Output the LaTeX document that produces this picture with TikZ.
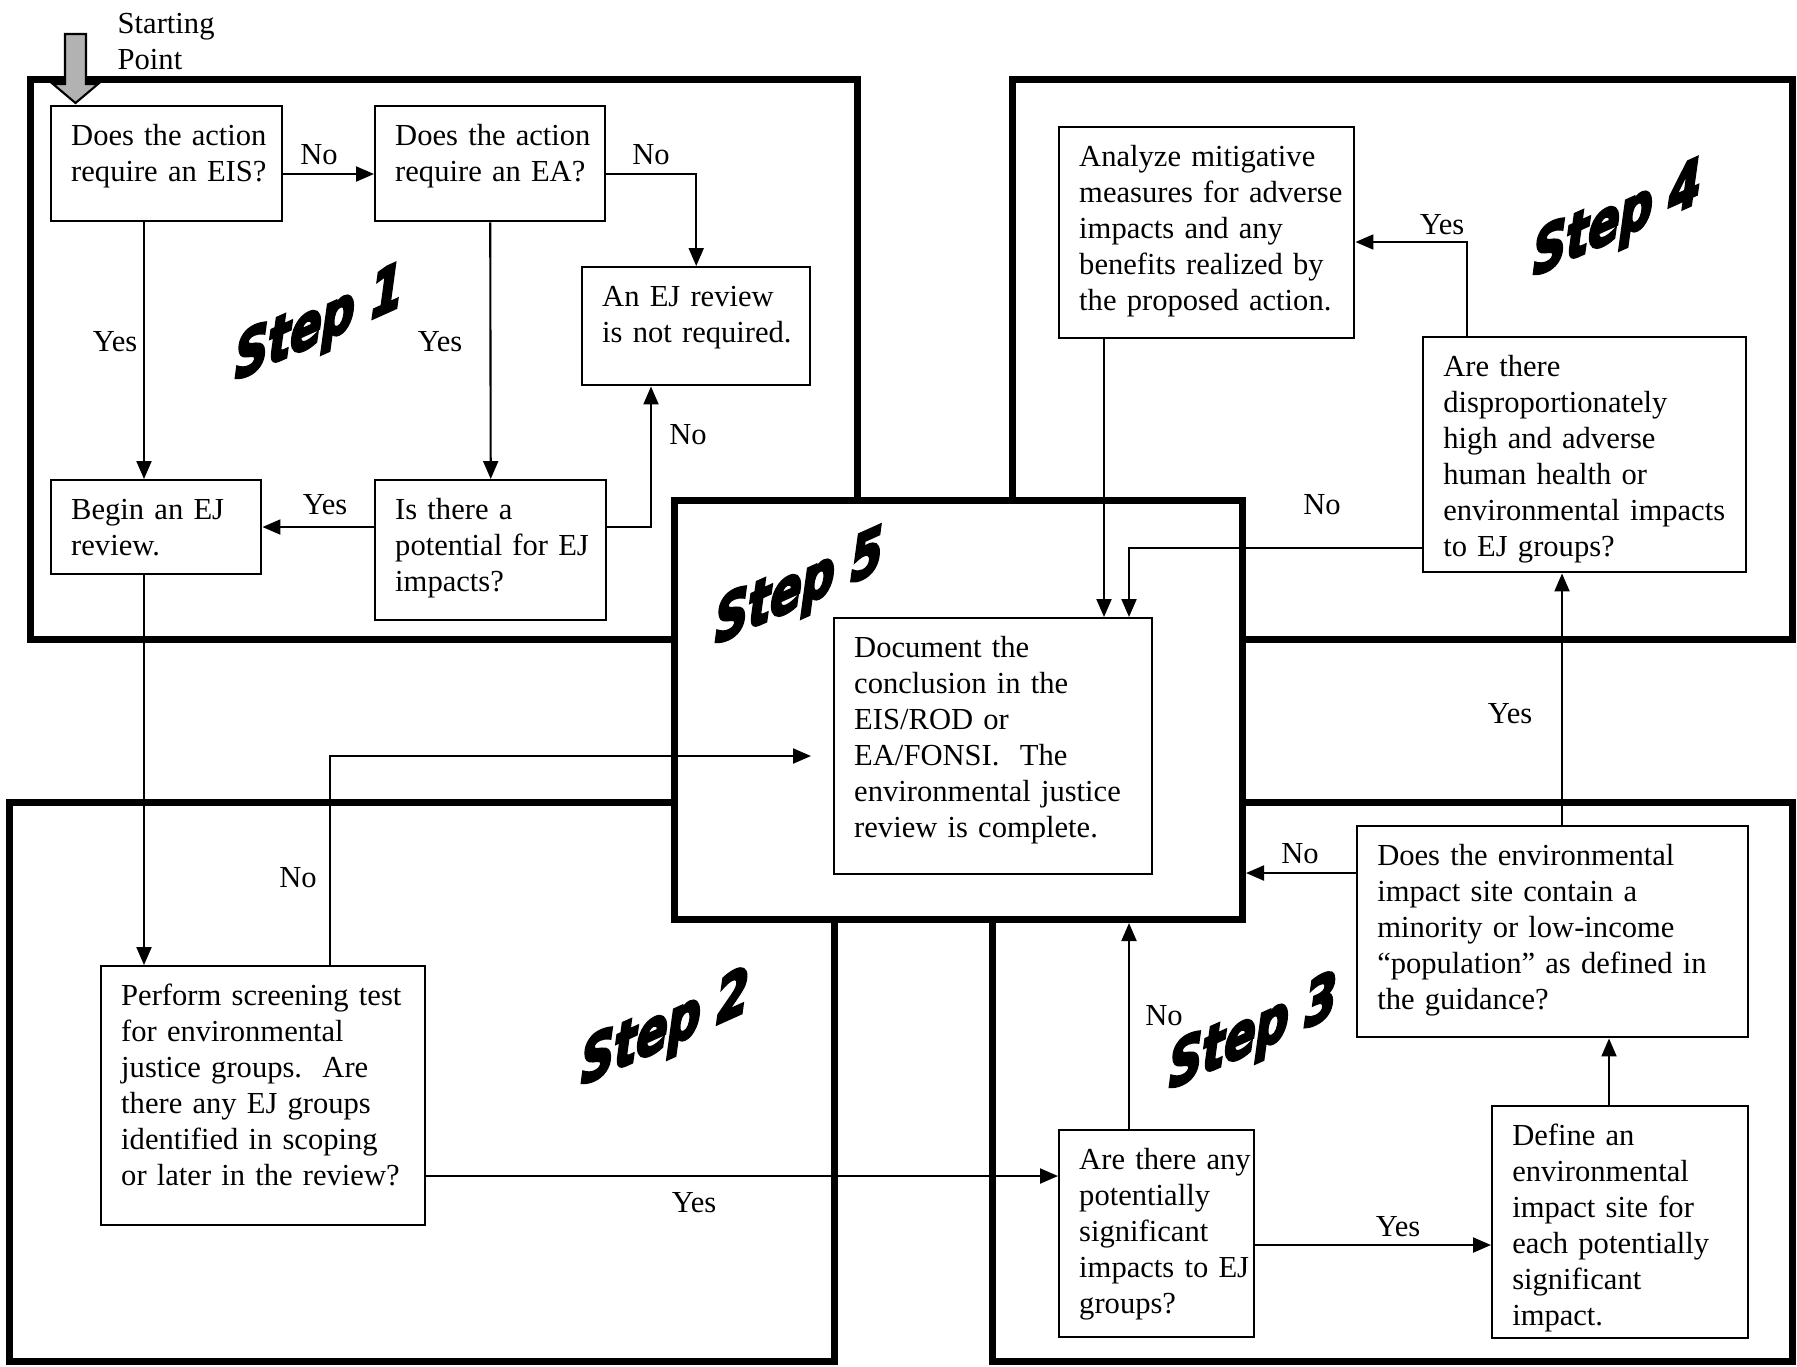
\documentclass[tikz,border=0pt]{standalone}
\usepackage{fontspec}
\setmainfont{Liberation Serif}
\newfontfamily\stepfont{DejaVu Sans}
\usepackage{tikz}
\usetikzlibrary{arrows.meta, calc}
\newcommand{\boxfont}{\fontsize{8.7pt}{10.25pt}\selectfont}
\newcommand{\heavy}[1]{\special{pdf:literal direct 2 Tr 0.9 w}#1\special{pdf:literal direct 0 Tr}}

\begin{document}
\begin{tikzpicture}[x=0.1mm, y=-0.1mm,
  panel/.style={draw, line width=2pt, anchor=north west, inner sep=0pt},
  box/.style={draw, line width=0.7pt, anchor=north west, fill=white, inner xsep=0pt, inner ysep=1.5mm,
    align=left, text height=2.4mm, font=\boxfont, execute at begin node={\leftskip=2mm\relax}},
  lbl/.style={font=\boxfont, inner sep=0pt},
  stepmark/.style={font=\stepfont\bfseries\itshape\fontsize{17.5pt}{18pt}\selectfont, inner sep=0pt,
    transform shape, yslant=0.45, xscale=0.75},
  arr/.style={line width=0.6pt, -{Triangle[length=1.8mm, width=1.5mm]}}]
  \path[use as bounding box, fill=white] (0,0) rectangle (1797,1366);

  % the five step panels
  \node[panel, minimum width=82.7mm, minimum height=56mm] (pone) at (27,76) {};
  \node[panel, minimum width=78mm, minimum height=56mm] (pfour) at (1009,76) {};
  \node[panel, minimum width=82.5mm, minimum height=55.9mm] (ptwo) at (6,799) {};
  \node[panel, minimum width=80mm, minimum height=55.9mm] (pthree) at (989,799) {};
  \node[panel, fill=white, minimum width=56.8mm, minimum height=41.9mm] (pfive) at (671,497) {};

  \node[stepmark] (sone) at (319,326) {\heavy{Step 1}};
  \node[stepmark] (stwo) at (665,1031) {\heavy{Step 2}};
  \node[stepmark] (sthree) at (1253,1035) {\heavy{Step 3}};
  \node[stepmark] (sfour) at (1617,222) {\heavy{Step 4}};
  \node[stepmark] (sfive) at (799,590) {\heavy{Step 5}};

  % starting point
  \filldraw[fill=black!30, line width=0.6pt] (65,34) -- (86,34) -- (86,84) -- (98,84) -- (75.5,103)
    -- (53,84) -- (65,84) -- cycle;
  \node[lbl, anchor=north west, align=left, text width=15mm, text height=1.9mm] (start) at (117,14) {Starting\\ Point};

  % boxes
  \node[box, text width=23.1mm, text depth=6.1mm] (eis) at (50,105) {Does the action\\ require an EIS?};
  \node[box, text width=23mm, text depth=6.1mm] (ea) at (374,105) {Does the action\\ require an EA?};
  \node[box, text width=22.8mm, text depth=6.4mm] (noreview) at (581,266) {An EJ review\\ is not required.};
  \node[box, text width=21mm, text depth=4mm] (begin) at (50,479) {Begin an EJ\\ review.};
  \node[box, text width=23.1mm, text depth=8.6mm] (potential) at (374,479) {Is there a\\ potential for EJ\\ impacts?};
  \node[box, text width=31.8mm, text depth=20.2mm] (document) at (833,617) {Document the\\ conclusion in the\\ EIS/ROD or\\ EA/FONSI.\ \ The\\ environmental justice\\ review is complete.};
  \node[box, text width=29.5mm, text depth=15.7mm] (mitigate) at (1058,126) {Analyze mitigative\\ measures for adverse\\ impacts and any\\ benefits realized by\\ the proposed action.};
  \node[box, text width=32.3mm, text depth=18.1mm] (adverse) at (1422,336) {Are there\\ disproportionately\\ high and adverse\\ human health or\\ environmental impacts\\ to EJ groups?};
  \node[box, text width=32.4mm, text depth=20.5mm] (screen) at (100,965) {Perform screening test\\ for environmental\\ justice groups.\ \ Are\\ there any EJ groups\\ identified in scoping\\ or later in the review?};
  \node[box, text width=19.5mm, text depth=15.3mm] (signif) at (1058,1129) {Are there any\\ potentially\\ significant\\ impacts to EJ\\ groups?};
  \node[box, text width=25.6mm, text depth=17.8mm] (define) at (1491,1105) {Define an\\ environmental\\ impact site for\\ each potentially\\ significant\\ impact.};
  \node[box, text width=39.1mm, text depth=15.7mm] (site) at (1356,825) {Does the environmental\\ impact site contain a\\ minority or low-income\\ “population” as defined in\\ the guidance?};

  % step 1
  \draw[arr] ($(eis.north east)+(0,69)$) -- ($(ea.north west)+(0,69)$);
  \draw[arr] ($(ea.north east)+(0,69)$) -| (noreview.north);
  \draw[arr] ($(eis.south west)+(94,0)$) -- ($(begin.north west)+(94,0)$);
  \draw[arr] (ea.south) -- (potential.north);
  \draw[arr] ($(potential.north west)+(0,48)$) -- ($(begin.north east)+(0,48)$);
  \draw[arr] ($(potential.north east)+(0,48)$) -| ($(noreview.south west)+(70,0)$);
  \node[lbl] (na) at (319,155) {No};
  \node[lbl] (nb) at (651,155) {No};
  \node[lbl] (ya) at (115,342) {Yes};
  \node[lbl] (yb) at (440,342) {Yes};
  \node[lbl] (yc) at (325,505) {Yes};
  \node[lbl] (nc) at (688,435) {No};

  % step 2
  \draw[arr] ($(begin.south west)+(94,0)$) -- ($(screen.north west)+(44,0)$);
  \draw[arr, shorten >=2.2mm] ($(screen.north west)+(230,0)$) |- ($(document.north west)+(0,139)$);
  \draw[arr] ($(screen.north east)+(0,211)$) -- ($(signif.north west)+(0,47)$);
  \node[lbl] (nd) at (298,878) {No};
  \node[lbl] (yd) at (694,1203) {Yes};

  % step 3
  \coordinate (stop) at ($(signif.north west)+(71,0)$);
  \coordinate (swest) at ($(site.north west)+(0,48)$);
  \draw[arr] ($(signif.north east)+(0,116)$) -- ($(define.north west)+(0,140)$);
  \draw[arr] ($(define.north west)+(118,0)$) -- ($(site.south west)+(253,0)$);
  \draw[arr] (stop) -- (stop |- pfive.south);
  \draw[arr] (swest) -- (swest -| pfive.east);
  \draw[arr] ($(site.north west)+(206,0)$) -- ($(adverse.south west)+(140,0)$);
  \node[lbl] (ye) at (1398,1227) {Yes};
  \node[lbl] (ne) at (1164,1016) {No};
  \node[lbl] (nf) at (1300,854) {No};
  \node[lbl] (yf) at (1510,714) {Yes};

  % step 4
  \draw[arr] ($(adverse.north west)+(45,0)$) |- ($(mitigate.north east)+(0,116)$);
  \draw[arr] ($(mitigate.south west)+(46,0)$) -- ($(document.north west)+(271,0)$);
  \draw[arr] ($(adverse.north west)+(0,212)$) -| ($(document.north west)+(296,0)$);
  \node[lbl] (yg) at (1442,225) {Yes};
  \node[lbl] (ng) at (1322,505) {No};
\end{tikzpicture}
\end{document}
